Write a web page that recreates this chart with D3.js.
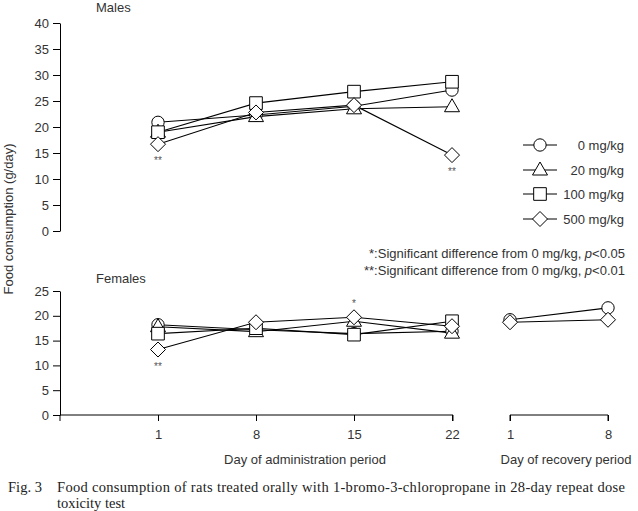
<!DOCTYPE html>
<html><head><meta charset="utf-8">
<script src="https://cdn.jsdelivr.net/npm/d3@7"></script>
<style>
body{margin:0;background:#fff;}
text{font-family:"Liberation Sans",Arial,sans-serif;fill:#333;}
</style></head>
<body><svg id="c" width="638" height="511"></svg>
<script>
const adminDays = [1, 8, 15, 22];
const recoveryDays = [1, 8];
const groups = ["0 mg/kg", "20 mg/kg", "100 mg/kg", "500 mg/kg"];
const shapes = ["circle", "triangle", "square", "diamond"];
const malesAdmin = [
  [20.9, 22.3, 24.0, 27.1],
  [19.0, 22.0, 23.5, 23.9],
  [19.0, 24.6, 26.8, 28.7],
  [16.7, 22.8, 24.2, 14.6]
];
const femalesAdmin = [
  [18.2, 17.2, 16.4, 16.9],
  [17.8, 16.8, 18.9, 16.5],
  [16.4, 17.5, 16.2, 18.9],
  [13.2, 18.7, 19.7, 17.9]
];
const femalesRecovery = [
  [19.2, 21.6],
  null,
  null,
  [18.7, 19.2]
];
const maleYTicks = [0, 5, 10, 15, 20, 25, 30, 35, 40];
const femaleYTicks = [0, 5, 10, 15, 20, 25];
const maleSig = [{day: 1, g: 3, mark: "**"}, {day: 22, g: 3, mark: "**"}];
const femaleSig = [{day: 1, g: 3, mark: "**", pos: "below"}, {day: 15, g: 3, mark: "*", pos: "above"}];

const svg = d3.select("#c");
const xA = d3.scaleLinear().domain([-6, 22]).range([60, 452]);
const xR = d3.scaleLinear().domain([1, 8]).range([510, 608]);
const yM = d3.scaleLinear().domain([0, 40]).range([231, 23]);
const yF = d3.scaleLinear().domain([0, 25]).range([415, 291]);

function marker(g, shape, cx, cy) {
  const s = g.append("path").attr("fill", "#fff").attr("stroke", "#000").attr("stroke-width", 1);
  let d;
  if (shape === "circle") d = d3.symbol(d3.symbolCircle, 120)();
  if (shape === "square") d = d3.symbol(d3.symbolSquare, 160)();
  if (shape === "triangle") d = "M0,-8L7.5,5L-7.5,5Z";
  if (shape === "diamond") d = "M0,-7.5L7.5,0L0,7.5L-7.5,0Z";
  s.attr("d", d).attr("transform", `translate(${cx},${cy})`);
}

function yAxis(y, ticks) {
  const g = svg.append("g").attr("transform", "translate(60,0)")
    .call(d3.axisLeft(y).tickValues(ticks).tickSize(7).tickPadding(4).tickSizeOuter(0));
  g.selectAll("path,line").attr("stroke", "#000");
  g.selectAll("text").attr("font-size", 13).attr("fill", "#333").style("font-family", '"Liberation Sans",Arial,sans-serif');
}
yAxis(yM, maleYTicks);
yAxis(yF, femaleYTicks);

function xAxis(x, ticks, from, to) {
  const g = svg.append("g").attr("transform", "translate(0,415)")
    .call(d3.axisBottom(x).tickValues(ticks).tickFormat(d3.format("d")).tickSize(6).tickPadding(9).tickSizeOuter(0));
  g.select("path.domain").attr("d", `M${from},6V0H${to}V6`).attr("stroke", "#000").attr("fill", "none");
  g.selectAll("line").attr("stroke", "#000");
  g.selectAll("text").attr("font-size", 13).attr("fill", "#333").style("font-family", '"Liberation Sans",Arial,sans-serif');
}
xAxis(xA, adminDays, 60, 453);
xAxis(xR, recoveryDays, 510, 608);

const line = (x, y) => d3.line().x(d => x(d[0])).y(d => y(d[1]));

function series(x, y, days, data) {
  data.forEach((vals, i) => {
    if (!vals) return;
    const pts = days.map((d, j) => [d, vals[j]]);
    svg.append("path").attr("d", line(x, y)(pts)).attr("fill", "none").attr("stroke", "#000").attr("stroke-width", 1.1);
  });
  data.forEach((vals, i) => {
    if (!vals) return;
    const g = svg.append("g");
    days.forEach((d, j) => marker(g, shapes[i], x(d), y(vals[j])));
  });
}
series(xA, yM, adminDays, malesAdmin);
series(xA, yF, adminDays, femalesAdmin);
series(xR, yF, recoveryDays, femalesRecovery);

maleSig.forEach(s => {
  const v = malesAdmin[s.g][adminDays.indexOf(s.day)];
  svg.append("text").attr("x", xA(s.day)).attr("y", yM(v) + 20).attr("text-anchor", "middle")
    .attr("font-size", 10).style("fill", "#555").text(s.mark);
});
femaleSig.forEach(s => {
  const v = femalesAdmin[s.g][adminDays.indexOf(s.day)];
  svg.append("text").attr("x", xA(s.day)).attr("y", s.pos === "below" ? yF(v) + 20 : yF(v) - 10)
    .attr("text-anchor", "middle").attr("font-size", 10).style("fill", "#555").text(s.mark);
});

svg.append("text").attr("x", 96).attr("y", 12).attr("font-size", 13).text("Males");
svg.append("text").attr("x", 96).attr("y", 283).attr("font-size", 13).text("Females");

svg.append("text").attr("transform", "translate(13,219) rotate(-90)").attr("text-anchor", "middle")
  .attr("font-size", 13).text("Food consumption (g/day)");

svg.append("text").attr("x", 305).attr("y", 464).attr("text-anchor", "middle").attr("font-size", 13).text("Day of administration period");
svg.append("text").attr("x", 566).attr("y", 464).attr("text-anchor", "middle").attr("font-size", 13).text("Day of recovery period");

// legend
const legY = [145, 170, 194, 219];
groups.forEach((name, i) => {
  svg.append("line").attr("x1", 523).attr("x2", 557).attr("y1", legY[i]).attr("y2", legY[i]).attr("stroke", "#000");
  marker(svg.append("g"), shapes[i], 540, legY[i]);
  svg.append("text").attr("x", 624).attr("y", legY[i] + 5).attr("text-anchor", "end").attr("font-size", 13).text(name);
});

// notes
const n1 = svg.append("text").attr("x", 625).attr("y", 258).attr("text-anchor", "end").attr("font-size", 13);
n1.append("tspan").text("*:Significant difference from 0 mg/kg, ");
n1.append("tspan").attr("font-style", "italic").text("p");
n1.append("tspan").text("<0.05");
const n2 = svg.append("text").attr("x", 625).attr("y", 275).attr("text-anchor", "end").attr("font-size", 13);
n2.append("tspan").text("**:Significant difference from 0 mg/kg, ");
n2.append("tspan").attr("font-style", "italic").text("p");
n2.append("tspan").text("<0.01");

// caption
const serif = '"Liberation Serif","DejaVu Serif",serif';
svg.append("text").attr("x", 8).attr("y", 492).attr("font-size", 14.5).style("font-family", serif).style("fill", "#222")
  .attr("textLength", 34).attr("lengthAdjust", "spacing").text("Fig. 3");
svg.append("text").attr("x", 57).attr("y", 492).attr("font-size", 14.5).style("font-family", serif).style("fill", "#222")
  .attr("textLength", 568).attr("lengthAdjust", "spacing")
  .text("Food consumption of rats treated orally with 1-bromo-3-chloropropane in 28-day repeat dose");
svg.append("text").attr("x", 57).attr("y", 508).attr("font-size", 14.5).style("font-family", serif).style("fill", "#222")
  .text("toxicity test");
</script></body></html>
